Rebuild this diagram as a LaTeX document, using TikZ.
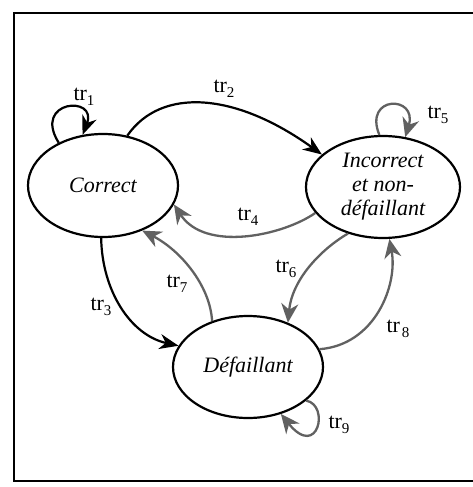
\documentclass[tikz,border=0pt]{standalone}
\usepackage{fontspec}
\setmainfont{Liberation Serif}
\usetikzlibrary{shapes.geometric,arrows.meta}
\newcommand\trlab[1]{tr\raisebox{-5pt}{\fontsize{15}{15}\selectfont #1}}
\begin{document}
\begin{tikzpicture}[x=1pt,y=-1pt,
  state/.style={draw,ellipse,line width=2.2pt,inner sep=0pt,
    font=\fontsize{22}{24}\selectfont\itshape,align=center},
  blk/.style={line width=2.2pt,-{Stealth[length=19pt,width=15pt,inset=6pt]}},
  gry/.style={line width=2.3pt,draw=black!62,
    -{Stealth[length=19pt,width=17pt,inset=6pt,fill=black!62]}},
  lab/.style={font=\fontsize{22}{22}\selectfont,inner sep=0pt}]
\useasboundingbox (0,0) rectangle (472,487);
\draw[line width=2.8pt] (474,13) -- (14,13) -- (14,481) -- (474,481);

\node[state,minimum width=150pt,minimum height=103pt] (C) at (103,185.5) {Correct};
\node[state,minimum width=154pt,minimum height=102pt] (I) at (383,187) {Incorrect\\et non-\\défaillant};
\node[state,minimum width=150pt,minimum height=102pt] (D) at (248,367) {Défaillant};

% black transitions
\draw[blk] (C.136) .. controls (32,100) and (98,95) .. (C.112);
\draw[blk] (C.64) .. controls (161,87) and (235,92) .. (I.152);
\draw[blk] (C.268) .. controls (102,290) and (130,335) .. (D.163);

% grey transitions
\draw[gry] (I.94) .. controls (363,95) and (418,95) .. (I.66);
\draw[gry] (I.201) .. controls (282,236) and (205,252) .. (C.345);
\draw[gry] (D.128) .. controls (210,285) and (180,250) .. (C.311);
\draw[gry] (I.233) .. controls (320,250) and (292,280) .. (D.48);
\draw[gry] (D.14) .. controls (375,345) and (398,285) .. (I.277);
\draw[gry] (D.330) .. controls (330,405) and (318,460) .. (D.305);

% labels
\node[lab] (l1) at (84,97) {\trlab{1}};
\node[lab] (l2) at (224,89) {\trlab{2}};
\node[lab] (l3) at (101,307) {\trlab{3}};
\node[lab] (l4) at (248,217) {\trlab{4}};
\node[lab] (l5) at (438,115) {\trlab{5}};
\node[lab] (l6) at (286,269) {\trlab{6}};
\node[lab] (l7) at (177,284) {\trlab{7}};
\node[lab] (l8) at (398,329) {\trlab{\kern2pt 8}};
\node[lab] (l9) at (339,425) {\trlab{9}};
\end{tikzpicture}
\end{document}
